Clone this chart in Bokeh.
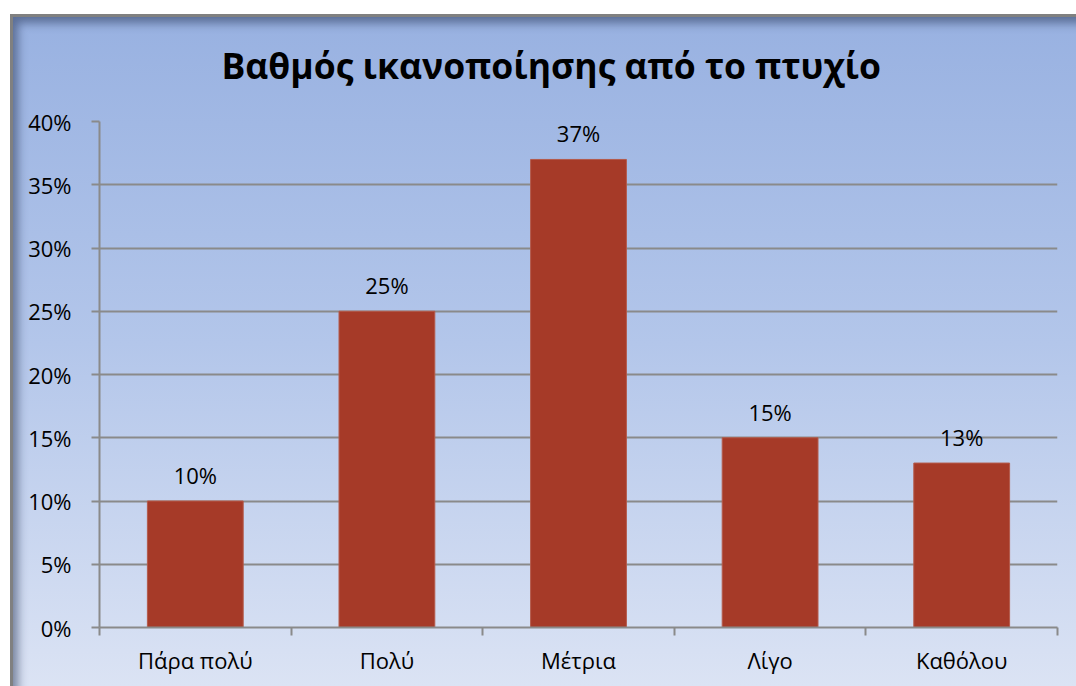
from bokeh.plotting import figure
from bokeh.models import FixedTicker, PrintfTickFormatter, Range1d
from bokeh.core.properties import value
from bokeh.embed import file_html
from bokeh.resources import INLINE

title = "Βαθμός ικανοποίησης από το πτυχίο"
categories = ["Πάρα πολύ", "Πολύ", "Μέτρια", "Λίγο", "Καθόλου"]
percent = [10, 25, 37, 15, 13]
y_ticks = [0, 5, 10, 15, 20, 25, 30, 35, 40]

FONT = "Open Sans"
GRID = "#8a8a8a"

xs = [i + 0.5 for i in range(len(categories))]

p = figure(width=1076, height=686, output_backend="svg", toolbar_location=None,
           x_range=Range1d(0, len(categories)), y_range=Range1d(0, 40),
           min_border_left=99, min_border_right=19, min_border_top=121,
           min_border_bottom=59)

p.styles = {
    "background": "linear-gradient(to bottom, #ffffff 0px, #ffffff 14px, #98b1e1 14px, #b3c6ea 50%, #dbe3f4 100%)",
    "box-shadow": ("inset 10px 14px 0 #ffffff, inset 13px 17px 0 #808080, "
                   "inset 21px 26px 10px -3px rgba(40,55,90,0.55)"),
}
p.border_fill_alpha = 0
p.background_fill_alpha = 0
p.outline_line_color = None

p.title.text = title
p.title.align = "left"
p.title.offset = 122
p.title.text_font = FONT
p.title.text_font_size = "35.5px"
p.title.text_font_style = "bold"
p.title.text_color = "#000000"
p.title.standoff = 66

p.vbar(x=xs, top=percent, width=0.5, fill_color="#a63a28", line_color="#b45a4a", line_width=1)

p.text(x=xs, y=percent, text=[f"{v}%" for v in percent], text_align="center",
       text_baseline="middle", y_offset=-26, text_font=value(FONT),
       text_font_size="22px", text_color="#000000")

# x axis: labels at centers, tick marks at category boundaries
xa = p.xaxis[0]
xa.ticker = FixedTicker(ticks=xs, minor_ticks=list(range(len(categories) + 1)))
xa.major_label_overrides = {x: c for x, c in zip(xs, categories)}
xa.major_tick_out = 0
xa.major_tick_in = 0
xa.minor_tick_out = 8
xa.minor_tick_in = 0
xa.minor_tick_line_color = GRID
xa.minor_tick_line_width = 2
xa.axis_line_color = GRID
xa.axis_line_width = 2
xa.major_label_text_font = FONT
xa.major_label_text_font_size = "22px"
xa.major_label_text_color = "#000000"
xa.major_label_standoff = 9

ya = p.yaxis[0]
ya.ticker = FixedTicker(ticks=y_ticks, minor_ticks=[])
ya.formatter = PrintfTickFormatter(format="%d%%")
ya.major_tick_out = 8
ya.major_tick_in = 0
ya.major_tick_line_color = GRID
ya.major_tick_line_width = 2
ya.axis_line_color = GRID
ya.axis_line_width = 2
ya.major_label_text_font = FONT
ya.major_label_text_font_size = "22px"
ya.major_label_text_color = "#000000"
ya.major_label_standoff = 20

p.xgrid.grid_line_color = None
p.ygrid.ticker = FixedTicker(ticks=y_ticks)
p.ygrid.grid_line_color = GRID
p.ygrid.grid_line_width = 2

open("out.html", "w").write(file_html(p, INLINE))
